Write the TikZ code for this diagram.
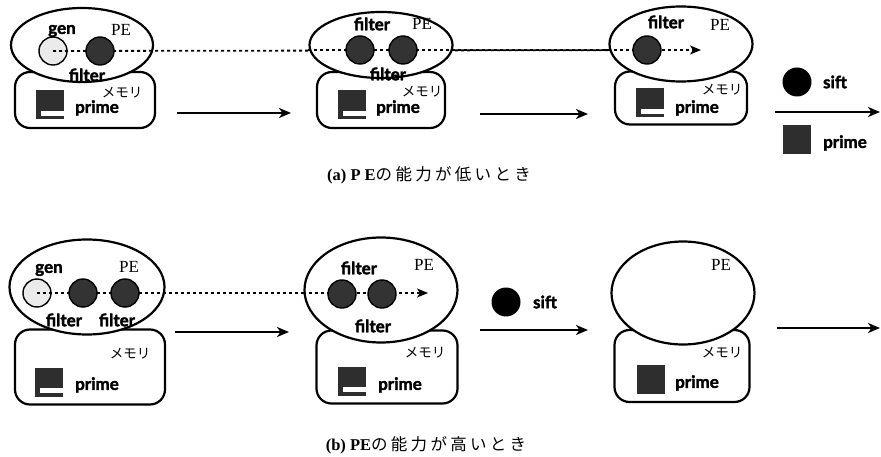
\documentclass[tikz,border=0pt]{standalone}
\usepackage{fontspec}
\setmainfont{Liberation Serif}
\newfontfamily\lab{Lato}[BoldFeatures={FakeBold=2}]
\newfontfamily\jp{Noto Sans CJK JP}
\newfontfamily\jpcap{Noto Sans CJK JP}[LetterSpace=20]
\usetikzlibrary{shapes.geometric,arrows.meta}
\newcommand\primenotch[1]{\fill[white] ([xshift=5pt,yshift=4pt]#1.south west) rectangle ([yshift=8.5pt]#1.south east);}
\begin{document}
\begin{tikzpicture}[x=1pt,y=-1pt,
  pe/.style={ellipse, draw, line width=2.2pt, fill=white, inner sep=0pt},
  mem/.style={draw, line width=2.2pt, rounded corners=15pt, fill=white, inner sep=0pt},
  ball/.style={circle, draw, line width=1.4pt, fill=black!80, minimum size=28pt, inner sep=0pt},
  genball/.style={ball, fill=black!8},
  siftball/.style={circle, fill=black, minimum size=29pt, inner sep=0pt},
  primesq/.style={fill=black!82, minimum width=28pt, minimum height=29pt, inner sep=0pt},
  lbl/.style={font=\lab\bfseries\fontsize{17}{18}\selectfont, inner sep=0pt},
  pelbl/.style={font=\fontsize{17}{18}\selectfont, inner sep=0pt},
  jplbl/.style={font=\jp\fontsize{13.5}{14}\selectfont, inner sep=0pt},
  caplbl/.style={font=\fontsize{16.5}{18}\selectfont, inner sep=0pt},
  flow/.style={line width=2.1pt, -{Stealth[length=12pt,width=10pt,inset=3.5pt]}},
  dotline/.style={line width=1.8pt, dash pattern=on 3pt off 3pt, -{Stealth[length=11pt,width=9pt,inset=3pt]}}
]
\useasboundingbox (0,0) rectangle (881,457);

% ================= row (a) =================
% panel a1
\node[mem, minimum width=140pt, minimum height=56pt] (ma1) at (85,100) {};
\node[pe, minimum width=142pt, minimum height=74pt] (ea1) at (82,45) {};
\node[genball] (ga1) at (53,51) {};
\coordinate (enda) at (701,50);
\draw[dotline] (ga1.center) -- (enda);
\node[ball] (fa1) at (100,51) {};
\node[lbl] (tgen1) at (62,31) {gen};
\node[pelbl] (tpe1) at (121,30) {PE};
\node[lbl] (tf1) at (87,75) {filter};
\node[jplbl] (tm1) at (122,93) {メモリ};
\node[primesq] (pa1) at (50,105) {};
\primenotch{pa1}
\node[lbl] (tp1) at (97,108) {prime};

% panel a2
\node[mem, minimum width=128pt, minimum height=56pt] (ma2) at (381,100) {};
\node[pe, minimum width=143pt, minimum height=66pt] (ea2) at (381,45) {};
\draw[dotline] (ea2.west |- enda) -- (enda);
\node[ball] (fa2) at (360,50) {};
\node[ball] (fa3) at (403,50) {};
\node[lbl] (tf2) at (372,24) {filter};
\node[pelbl] (tpe2) at (422,24) {PE};
\node[lbl] (tf3) at (388,74) {filter};
\node[jplbl] (tm2) at (422,92) {メモリ};
\node[primesq] (pa2) at (352,105) {};
\primenotch{pa2}
\node[lbl] (tp2) at (398,108) {prime};

% panel a3
\node[mem, minimum width=132pt, minimum height=53pt] (ma3) at (681,98) {};
\node[pe, minimum width=143pt, minimum height=75pt] (ea3) at (681,44) {};
\draw[dotline] (ea3.west |- enda) -- (enda);
\node[ball] (fa4) at (647,50) {};
\node[lbl] (tf4) at (666,22) {filter};
\node[pelbl] (tpe3) at (720,25) {PE};
\node[jplbl] (tm3) at (722,90) {メモリ};
\node[primesq] (pa3) at (650,103) {};
\primenotch{pa3}
\node[lbl] (tp3) at (697,108) {prime};

% arrows row a
\coordinate (a1s) at (177,113); \coordinate (a1e) at (291,113);
\coordinate (a2s) at (480,114); \coordinate (a2e) at (588,114);
\coordinate (a3s) at (775,112); \coordinate (a3e) at (880,112);
\draw[flow] (a1s) -- (a1e);
\draw[flow] (a2s) -- (a2e);
\draw[flow] (a3s) -- (a3e);
\node[siftball] (sa) at (797,82) {};
\node[lbl] (tsa) at (835,82) {sift};
\node[primesq] (pla) at (797,140) {};
\node[lbl] (tpla) at (845,143) {prime};

\node[caplbl] (capa) at (429,175) {{\bfseries (a) P E}{\jpcap の能力が低いとき}};

% ================= row (b) =================
% panel b1
\node[mem, minimum width=150pt, minimum height=75pt] (mb1) at (90,367) {};
\node[pe, minimum width=155pt, minimum height=95pt] (eb1) at (87,287) {};
\node[genball] (gb1) at (37,293) {};
\coordinate (endb) at (428,293);
\draw[dotline] (gb1.center) -- (endb);
\node[ball] (fb1) at (83,293) {};
\node[ball] (fb2) at (125,293) {};
\node[lbl] (tgen2) at (49,270) {gen};
\node[pelbl] (tpe4) at (129,267) {PE};
\node[lbl] (tf5) at (64,320) {filter};
\node[lbl] (tf6) at (117,320) {filter};
\node[jplbl] (tm4) at (130,354) {メモリ};
\node[primesq] (pb1) at (49,382) {};
\primenotch{pb1}
\node[lbl] (tp4) at (97,385) {prime};

% panel b2
\node[mem, minimum width=141pt, minimum height=73pt] (mb2) at (387,367) {};
\node[pe, minimum width=153pt, minimum height=105pt] (eb2) at (381,290) {};
\draw[dotline] (eb2.west |- endb) -- (endb);
\node[ball] (fb3) at (342,294) {};
\node[ball] (fb4) at (382,294) {};
\node[lbl] (tf7) at (359,268) {filter};
\node[pelbl] (tpe5) at (424,265) {PE};
\node[lbl] (tf8) at (373,326) {filter};
\node[jplbl] (tm5) at (425,353) {メモリ};
\node[primesq] (pb2) at (352,381) {};
\primenotch{pb2}
\node[lbl] (tp5) at (400,385) {prime};

% panel b3
\node[mem, minimum width=135pt, minimum height=72pt] (mb3) at (682,366) {};
\node[pe, minimum width=143pt, minimum height=103pt] (eb3) at (683,293) {};
\node[pelbl] (tpe6) at (721,265) {PE};
\node[jplbl] (tm6) at (722,353) {メモリ};
\node[primesq] (pb3) at (651,379) {};
\node[lbl] (tp6) at (697,383) {prime};

% arrows row b
\coordinate (b1s) at (175,332); \coordinate (b1e) at (289,332);
\coordinate (b2s) at (480,330); \coordinate (b2e) at (588,330);
\coordinate (b3s) at (777,328); \coordinate (b3e) at (880,328);
\draw[flow] (b1s) -- (b1e);
\draw[flow] (b2s) -- (b2e);
\draw[flow] (b3s) -- (b3e);
\node[siftball] (sb) at (506,302) {};
\node[lbl] (tsb) at (545,302) {sift};

\node[caplbl] (capb) at (426,445) {{\bfseries (b) PE}{\jpcap の能力が高いとき}};
\end{tikzpicture}
\end{document}
